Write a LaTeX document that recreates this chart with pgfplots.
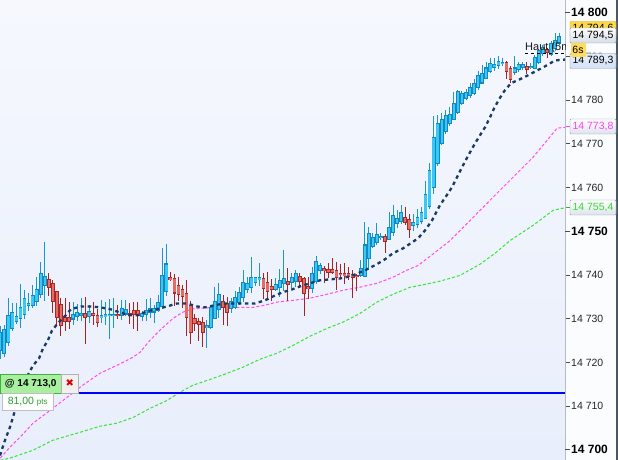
\documentclass[border=0pt]{standalone}
\usepackage{pgfplots}
\pgfplotsset{compat=1.18}
\usepackage{pgfplotstable}
\usepackage{fontspec}
\setmainfont{Liberation Sans}
\newfontfamily\dejavu{DejaVu Sans}
\definecolor{upfill}{HTML}{38C8F6}
\definecolor{upedge}{HTML}{1488C0}
\definecolor{upwick}{HTML}{1A96CC}
\definecolor{dnfill}{HTML}{E86A62}
\definecolor{dnedge}{HTML}{A82828}
\definecolor{dnwick}{HTML}{A02424}
\definecolor{maNavy}{HTML}{1B3A66}
\definecolor{maPink}{HTML}{FF4CF0}
\definecolor{maGreen}{HTML}{33E633}
\definecolor{bgTop}{HTML}{F6F8FE}
\definecolor{bgBot}{HTML}{E8EEFB}
\definecolor{panel}{HTML}{FBFCFE}
\definecolor{edgegray}{HTML}{4B5663}
\definecolor{spine}{HTML}{B4BCC8}
\definecolor{boxedge}{HTML}{8898B0}
\definecolor{boxblue}{HTML}{D4E2F6}
\definecolor{boxgray}{HTML}{D6DCE6}
\definecolor{yellowbox}{HTML}{FFD84A}
\definecolor{greenbg}{HTML}{A8F0A0}
\definecolor{greenedge}{HTML}{40B040}
\definecolor{ptsgreen}{HTML}{2E9E2E}
\definecolor{boxmag}{HTML}{FF40F4}
\definecolor{boxgrn}{HTML}{30DD30}

\pgfplotstableread{
x o h l c
0 14722.8 14728.5 14720.9 14726.9
1 14722.1 14728.5 14721.4 14727.6
2 14724.6 14734.9 14723.9 14730.8
3 14727.8 14733.5 14727.3 14731.5
4 14729.4 14733.8 14729.0 14730.6
5 14730.1 14738.1 14728.0 14732.6
6 14731.2 14736.7 14730.1 14734.7
7 14733.1 14736.0 14731.9 14733.5
8 14733.1 14737.9 14732.6 14735.4
9 14734.0 14739.7 14733.1 14736.7
10 14735.6 14743.1 14734.9 14740.4
11 14737.6 14747.5 14734.2 14739.7
18 14730.1 14733.8 14728.5 14731.2
19 14730.6 14733.5 14729.6 14731.5
20 14730.8 14734.9 14729.6 14731.2
22 14730.6 14733.1 14729.0 14731.7
25 14730.3 14734.2 14729.0 14730.8
26 14730.6 14733.8 14728.5 14731.0
27 14730.8 14734.7 14725.5 14731.0
28 14730.8 14734.7 14728.0 14731.0
30 14730.8 14734.2 14729.6 14732.4
31 14731.2 14734.4 14730.8 14732.2
35 14730.6 14731.9 14729.6 14731.2
36 14731.0 14734.7 14729.6 14731.9
37 14731.5 14734.9 14730.3 14732.4
38 14731.7 14733.1 14729.0 14732.4
39 14731.9 14735.4 14731.5 14733.8
40 14732.8 14746.3 14732.4 14739.9
41 14736.3 14747.3 14735.4 14742.5
51 14728.0 14729.9 14723.5 14728.5
52 14728.0 14733.1 14727.8 14732.6
53 14730.3 14737.2 14730.1 14734.0
54 14732.2 14738.3 14730.3 14735.6
57 14732.4 14734.9 14731.5 14734.0
58 14732.6 14736.5 14732.4 14734.9
59 14733.8 14737.2 14733.1 14736.0
60 14734.9 14741.1 14733.8 14738.3
61 14736.7 14739.7 14736.0 14738.1
62 14737.4 14744.1 14736.0 14739.5
63 14738.3 14739.7 14737.6 14739.5
64 14739.0 14742.7 14737.6 14739.5
68 14736.7 14739.5 14736.5 14737.9
69 14737.2 14741.5 14735.1 14738.8
70 14738.1 14745.9 14736.5 14739.2
72 14738.3 14740.6 14737.2 14739.5
73 14738.6 14741.3 14737.2 14740.4
77 14737.0 14742.0 14736.0 14740.4
78 14738.6 14744.5 14738.1 14743.1
79 14741.1 14742.9 14740.4 14742.2
89 14739.9 14743.4 14739.5 14741.5
90 14739.9 14752.1 14739.5 14747.0
91 14743.8 14750.9 14741.1 14749.5
92 14746.6 14749.5 14746.1 14748.6
93 14747.5 14751.8 14746.8 14749.3
94 14748.6 14749.5 14747.9 14748.9
96 14748.4 14754.6 14748.2 14751.1
97 14749.8 14756.2 14749.1 14753.7
98 14751.8 14755.0 14750.9 14753.0
99 14752.3 14756.2 14751.8 14754.3
102 14751.6 14753.9 14750.2 14752.1
103 14751.6 14755.3 14750.9 14753.2
104 14752.3 14755.5 14751.8 14754.3
105 14753.2 14761.7 14753.0 14758.5
106 14755.7 14765.8 14755.3 14764.0
107 14760.1 14776.5 14758.7 14771.5
108 14765.6 14776.8 14765.1 14774.7
109 14770.1 14777.2 14769.7 14775.6
110 14772.9 14777.7 14772.4 14776.5
111 14774.7 14778.6 14774.3 14776.8
112 14775.6 14781.8 14775.4 14779.3
113 14777.2 14782.3 14776.8 14782.0
114 14779.5 14782.3 14779.1 14781.6
115 14780.4 14782.5 14780.0 14781.8
116 14781.1 14784.1 14780.7 14783.0
117 14781.8 14784.8 14781.3 14783.9
118 14783.0 14786.8 14782.5 14785.7
119 14784.1 14788.0 14783.6 14786.2
120 14785.2 14788.9 14784.8 14787.5
121 14786.6 14789.6 14786.2 14788.4
122 14787.5 14789.8 14786.8 14788.2
123 14788.0 14790.3 14787.3 14788.9
124 14788.4 14789.6 14787.8 14788.7
127 14786.4 14790.3 14785.9 14787.5
128 14787.1 14788.7 14786.6 14788.2
129 14787.5 14788.7 14786.8 14788.0
131 14787.5 14788.4 14787.1 14787.8
132 14787.5 14790.3 14787.1 14789.8
133 14788.9 14791.9 14788.4 14791.4
134 14790.7 14792.6 14790.0 14792.1
136 14790.7 14793.7 14790.3 14793.0
137 14791.9 14795.5 14791.4 14793.7
138 14793.0 14795.5 14792.6 14794.5
}\candup

\pgfplotstableread{
x o h l c
12 14739.0 14740.6 14735.4 14737.2
13 14738.1 14738.8 14731.2 14734.0
14 14736.3 14736.5 14728.5 14730.3
15 14733.3 14734.7 14726.2 14728.5
16 14730.3 14734.7 14727.3 14729.4
17 14730.3 14733.8 14727.6 14729.4
21 14731.2 14735.1 14724.4 14730.3
23 14731.2 14733.8 14728.5 14730.8
24 14731.0 14732.4 14728.3 14729.4
29 14731.0 14733.3 14730.1 14730.8
32 14731.2 14733.8 14729.0 14730.8
33 14731.9 14733.8 14727.6 14731.0
34 14731.9 14733.8 14727.3 14730.8
42 14739.5 14740.8 14738.8 14739.0
43 14739.2 14740.4 14733.1 14736.0
44 14737.6 14739.5 14734.2 14735.6
45 14736.7 14737.6 14732.4 14735.1
46 14735.8 14738.8 14726.0 14730.3
47 14733.1 14734.2 14724.4 14726.9
48 14730.1 14731.2 14727.3 14729.0
49 14729.4 14730.3 14725.1 14728.7
50 14729.0 14730.3 14723.5 14726.9
55 14734.0 14735.4 14728.5 14732.6
56 14733.5 14734.9 14728.3 14731.5
65 14739.2 14740.6 14734.7 14737.0
66 14738.3 14740.6 14734.2 14736.3
67 14737.2 14739.2 14734.2 14736.7
71 14738.6 14741.8 14734.2 14737.9
74 14739.7 14740.6 14737.2 14738.6
75 14739.2 14739.7 14730.8 14735.8
76 14737.4 14739.7 14734.7 14737.0
80 14741.5 14742.2 14738.3 14741.1
81 14741.3 14742.9 14739.5 14740.8
82 14741.3 14744.1 14740.4 14740.8
83 14741.1 14742.9 14736.5 14739.5
84 14740.4 14742.7 14739.5 14740.2
85 14740.4 14742.9 14738.1 14739.9
86 14740.4 14741.8 14738.8 14739.7
87 14740.2 14741.1 14734.7 14739.5
88 14739.9 14740.4 14736.5 14739.7
95 14748.9 14749.5 14745.0 14747.7
100 14753.2 14755.7 14751.6 14752.1
101 14752.7 14754.1 14748.6 14750.5
125 14788.7 14789.1 14785.0 14786.6
126 14787.3 14787.8 14783.9 14785.0
130 14787.8 14788.7 14785.9 14787.3
135 14791.6 14792.1 14789.8 14791.0
}\canddn

\pgfplotsset{
  errcol/.style 2 args={draw=none, mark=none, forget plot,
    error bars/.cd, y dir=both, y explicit, error mark=none,
    error bar style={draw=#1, line width=#2, solid}},
}

\begin{document}
\begin{tikzpicture}[x=1bp,y=1bp]
\useasboundingbox (0,0) rectangle (618,460);
\fill[panel] (565,0) rectangle (618,460);
\fill[edgegray] (616,0) rectangle (618,460);
\begin{axis}[
  at={(0,0)}, anchor=south west,
  scale only axis, width=565bp, height=460bp,
  xmin=-0.06, xmax=139.44, ymin=14697.67, ymax=14802.93,
  axis x line=none, axis y line=right,
  axis line style={draw=spine, line width=0.8bp, -},
  xtick=\empty, scaled y ticks=false,
  ytick={14710,14720,14730,14740,14760,14770,14780,14790},
  yticklabels={14 710,14 720,14 730,14 740,14 760,14 770,14 780,14 790},
  extra y ticks={14700,14750,14800},
  extra y tick labels={14 700,14 750,14 800},
  extra y tick style={yticklabel style={font=\bfseries\fontsize{12bp}{14bp}\selectfont, text=black}},
  tick align=outside, major tick length=5bp,
  major tick style={draw=black!70, line width=0.8bp},
  yticklabel style={font=\fontsize{10.5bp}{12bp}\selectfont, text=black!85, anchor=west, inner sep=1bp},
  clip mode=individual,
  axis background/.style={top color=bgTop, bottom color=bgBot},
]
% moving averages (slow)
\addplot[maGreen, line width=1bp, dash pattern=on 3bp off 2bp, mark=none] coordinates {
(0,14697.6) (2.4,14698.1) (8.1,14699.9) (13.0,14702.2) (19.7,14704.0) (24.6,14705.4) (28.8,14706.1) (32.8,14707.4) (37.0,14709.5) (41.2,14711.3) (44.4,14713.2) (47.6,14714.8) (51.8,14716.1) (56.0,14717.5) (59.9,14718.9) (64.1,14720.7) (68.3,14722.1) (72.3,14723.9) (76.5,14726.0) (80.7,14727.8) (84.6,14729.2) (88.8,14731.2) (93.0,14733.8) (97.0,14735.6) (101.2,14737.2) (103.6,14737.6) (108.6,14738.6) (113.5,14739.9) (118.5,14742.5) (122.2,14745.0) (125.9,14747.9) (131.6,14751.4) (136.5,14754.8) (139.44,14755.4)};
\addplot[maPink, line width=1bp, dash pattern=on 3bp off 2bp, mark=none] coordinates {
(0,14698.1) (2.4,14700.6) (4.9,14702.9) (8.1,14706.1) (12.3,14709.0) (16.5,14712.0) (20.4,14714.8) (24.6,14717.5) (30.3,14720.0) (32.8,14721.2) (34.5,14722.3) (37.0,14725.1) (39.9,14727.8) (42.7,14730.1) (45.1,14731.5) (47.3,14732.2) (49.8,14732.4) (52.5,14732.6) (56.0,14732.6) (59.2,14732.6) (62.4,14732.6) (65.4,14733.1) (68.3,14733.8) (72.3,14734.2) (76.5,14734.7) (80.7,14735.6) (84.6,14736.5) (88.8,14737.2) (93.0,14738.1) (97.0,14739.5) (100.4,14741.1) (103.2,14742.2) (107.4,14745.2) (111.1,14747.9) (115.3,14751.8) (119.2,14755.5) (123.4,14759.4) (127.6,14763.3) (131.5,14766.9) (135.0,14770.8) (137.5,14773.6) (139.44,14773.8)};
% level line
\addplot[blue, line width=1.6bp, mark=none] coordinates {(-0.06,14713.0) (139.44,14713.0)};
% candles: wicks
\addplot[errcol={upwick}{1bp}] table[x=x, y expr={(\thisrow{h}+\thisrow{l})/2}, y error expr={(\thisrow{h}-\thisrow{l})/2}] {\candup};
\addplot[errcol={dnwick}{1bp}] table[x=x, y expr={(\thisrow{h}+\thisrow{l})/2}, y error expr={(\thisrow{h}-\thisrow{l})/2}] {\canddn};
% bodies
\addplot[errcol={upedge}{3.8bp}] table[x=x, y expr={(\thisrow{o}+\thisrow{c})/2}, y error expr={abs(\thisrow{c}-\thisrow{o})/2+0.14}] {\candup};
\addplot[errcol={upfill}{2.4bp}] table[x=x, y expr={(\thisrow{o}+\thisrow{c})/2}, y error expr={max(abs(\thisrow{c}-\thisrow{o})/2-0.1,0.03)}] {\candup};
\addplot[errcol={dnedge}{3.8bp}] table[x=x, y expr={(\thisrow{o}+\thisrow{c})/2}, y error expr={abs(\thisrow{c}-\thisrow{o})/2+0.14}] {\canddn};
\addplot[errcol={dnfill}{2.4bp}] table[x=x, y expr={(\thisrow{o}+\thisrow{c})/2}, y error expr={max(abs(\thisrow{c}-\thisrow{o})/2-0.1,0.03)}] {\canddn};
% fast moving average
\addplot[maNavy, line width=2.3bp, dash pattern=on 3.5bp off 3.5bp, mark=none] coordinates {
(-0.06,14698.7) (1.17,14702.2) (2.41,14705.2) (3.64,14709.0) (4.88,14712.9) (6.11,14715.9) (8.09,14719.3) (9.57,14720.9) (10.56,14723.2) (11.79,14725.1) (12.78,14727.3) (14.26,14729.0) (15.99,14730.6) (17.47,14732.2) (19.94,14732.8) (22.41,14732.8) (24.63,14732.6) (27.10,14732.2) (29.32,14731.5) (31.79,14730.8) (34.01,14730.8) (36.24,14731.7) (38.70,14732.2) (41.17,14732.8) (43.64,14733.5) (46.11,14733.5) (48.58,14732.8) (50.56,14732.6) (53.03,14733.1) (55.49,14733.5) (60.43,14733.5) (62.90,14733.5) (65.37,14734.2) (67.35,14735.1) (69.57,14736.0) (72.04,14736.7) (74.01,14737.4) (76.48,14738.1) (78.95,14738.8) (81.42,14739.0) (83.89,14739.2) (86.36,14739.7) (88.33,14740.4) (90.56,14741.3) (93.03,14742.5) (95.00,14743.6) (96.98,14745.0) (99.45,14746.1) (101.42,14747.3) (103.15,14748.4) (104.88,14750.2) (106.61,14752.5) (108.58,14756.0) (110.06,14758.0) (111.54,14760.1) (112.78,14762.4) (114.26,14765.1) (115.99,14768.1) (117.22,14770.1) (118.46,14772.0) (119.69,14773.8) (120.93,14776.1) (121.91,14778.1) (123.15,14780.2) (124.38,14782.0) (126.11,14783.9) (128.34,14784.8) (130.31,14785.7) (132.54,14786.8) (135.00,14788.0) (136.98,14789.1) (139.44,14789.3)};
% high of 5 min
\addplot[black, line width=0.8bp, dash pattern=on 3bp off 3bp, mark=none] coordinates {(129.6,14790.8) (139.44,14790.8)};
\end{axis}
% clipped text inside plot
\begin{scope}
\clip (0,0) rectangle (565,460);
\node[anchor=base west, inner sep=0, font=\fontsize{11bp}{12bp}\selectfont, text=black!90] at (525,409) {Haut (5m};
\end{scope}
% right-side price markers
\tikzset{pbox/.style={draw=boxedge, rounded corners=1bp, minimum width=46bp, minimum height=15bp, inner sep=0, font=\fontsize{10.5bp}{12bp}\selectfont}}
\node[pbox, fill=yellowbox, draw=yellowbox!80!black] at (593,431) {14 794,6};
\node[pbox, top color=white, bottom color=boxgray] at (593,424.5) {14 794,5};
\node[pbox, top color=boxblue!60, bottom color=boxblue] at (593,399) {14 789,3};
\node[draw=none, fill=yellowbox!90!white, minimum width=15bp, minimum height=14bp, inner sep=0, font=\fontsize{10.5bp}{12bp}\selectfont] at (578,410) {6s};
\node[pbox, top color=white, bottom color=boxgray!80, text=boxmag] at (593,333.5) {14 773,8};
\node[pbox, top color=white, bottom color=boxgray!80, text=boxgrn] at (593,252.5) {14 755,4};
\draw[maPink, line width=1bp] (565.5,333.5) -- (570,333.5);
\draw[maGreen!80!black, line width=1bp] (565.5,252.5) -- (570,252.5);
% order label bottom left
\node[draw=greenedge, fill=greenbg, anchor=south west, minimum width=61bp, minimum height=19bp, inner sep=0, font=\bfseries\fontsize{10bp}{12bp}\selectfont] at (0,67) {@ 14 713,0};
\node[draw=black!30, fill=black!6, anchor=south west, minimum width=17bp, minimum height=19bp, inner sep=0, font=\dejavu\fontsize{10bp}{12bp}\selectfont, text=red!85!black] at (61,67) {✖};
\node[draw=black!25, fill=white, anchor=south west, minimum width=51bp, minimum height=17bp, inner sep=0, text=ptsgreen] at (2,50) {\fontsize{10.5bp}{12bp}\selectfont 81,00 \fontsize{8bp}{9bp}\selectfont pts};
\end{tikzpicture}
\end{document}
